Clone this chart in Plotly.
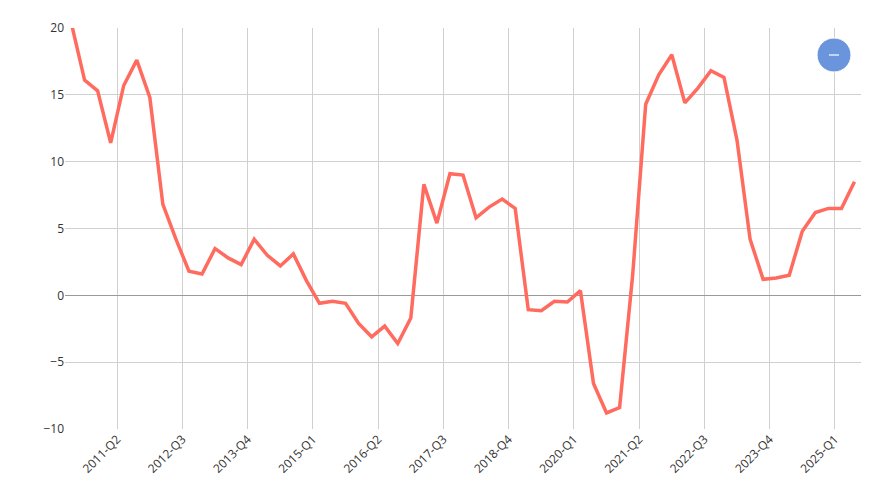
import plotly.graph_objects as go

quarters = [f"{y}-Q{q}" for y in range(2010, 2026) for q in range(1, 5)][1:62]
values = [20.3, 16.1, 15.3, 11.4, 15.7, 17.6, 14.8, 6.8, 4.2, 1.8,
          1.6, 3.5, 2.8, 2.3, 4.2, 3.0, 2.2, 3.1, 1.1, -0.6,
          -0.45, -0.6, -2.1, -3.1, -2.3, -3.6, -1.7, 8.3, 5.4, 9.1,
          9.0, 5.8, 6.6, 7.2, 6.5, -1.07, -1.15, -0.45, -0.5, 0.35,
          -6.6, -8.8, -8.4, 1.5, 14.3, 16.5, 18.0, 14.4, 15.5, 16.8,
          16.3, 11.6, 4.2, 1.2, 1.3, 1.5, 4.8, 6.2, 6.5, 6.5, 8.5]
tick_labels = ["2011-Q2", "2012-Q3", "2013-Q4", "2015-Q1", "2016-Q2", "2017-Q3",
               "2018-Q4", "2020-Q1", "2021-Q2", "2022-Q3", "2023-Q4", "2025-Q1"]

idx = list(range(len(quarters)))
tickpos = [quarters.index(t) - 0.5 for t in tick_labels]

fig = go.Figure(go.Scatter(x=idx, y=values, mode="lines",
                           line=dict(color="#ff6b5e", width=3.5),
                           text=quarters, hovertemplate="%{text}: %{y}<extra></extra>"))
fig.update_layout(
    width=873, height=500, margin=dict(l=57, r=20, t=20, b=79, autoexpand=False),
    plot_bgcolor="white", paper_bgcolor="white", showlegend=False,
    font=dict(family="Open Sans", size=12, color="#333"),
    xaxis=dict(range=[-0.5, len(quarters) - 0.5], tickvals=tickpos, ticktext=tick_labels,
               tickangle=-45, showgrid=True, gridcolor="#d0d0d0", zeroline=False,
               ticks="", showline=False, automargin=False),
    yaxis=dict(range=[-10, 20], dtick=5, showgrid=True, gridcolor="#d0d0d0",
               zeroline=True, zerolinecolor="#999", zerolinewidth=1, ticks="",
               automargin=False),
)
fig.add_shape(type="circle", xref="paper", yref="paper",
              x0=(809 - 57) / 796, x1=(843 - 57) / 796,
              y0=(421 - 64) / 401, y1=(421 - 30) / 401,
              fillcolor="#6a95dd", line=dict(color="#ffffff", width=1))
fig.add_shape(type="line", xref="paper", yref="paper",
              x0=(821 - 57) / 796, x1=(831 - 57) / 796,
              y0=(421 - 47) / 401, y1=(421 - 47) / 401,
              line=dict(color="white", width=1.2))
fig.write_html("out.html")
